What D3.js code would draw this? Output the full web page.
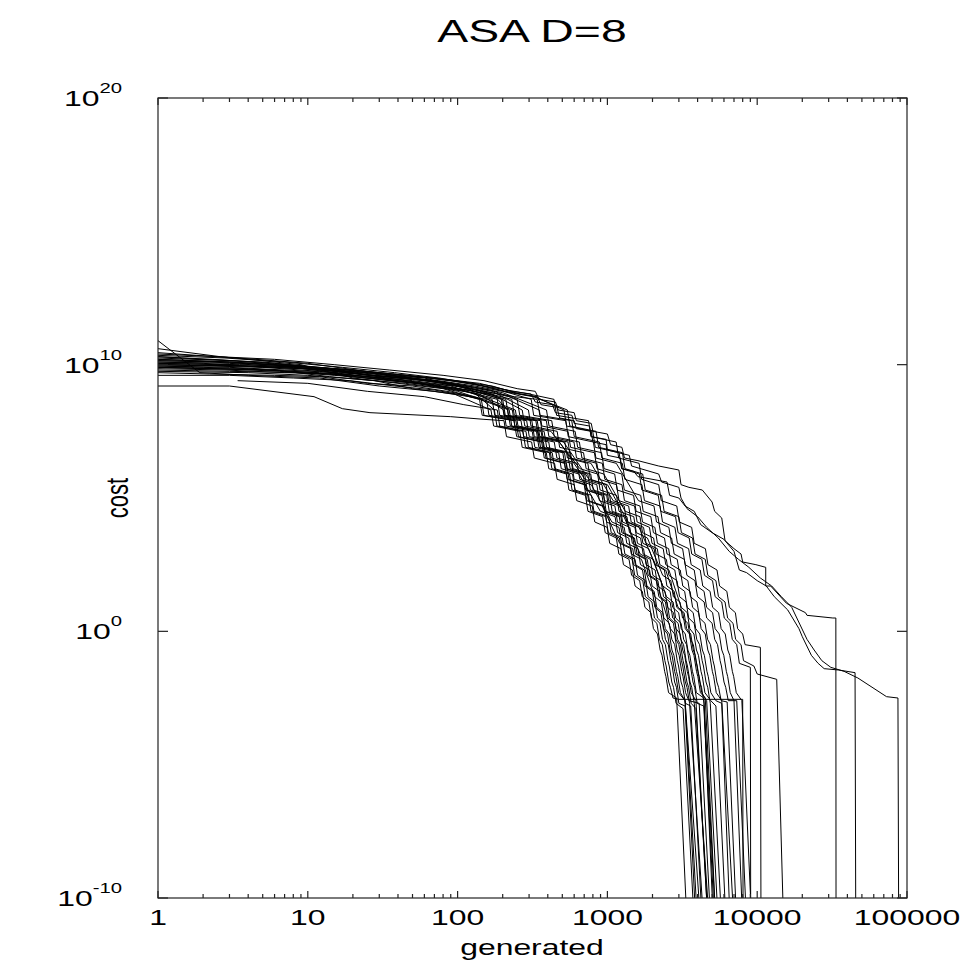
<!DOCTYPE html>
<html>
<head>
<meta charset="utf-8">
<script src="https://cdn.jsdelivr.net/npm/d3@7"></script>
<style>
  body { margin: 0; background: #fff; }
  svg { display: block; font-family: "Liberation Sans", Arial, sans-serif; }
</style>
</head>
<body>
<svg width="964" height="963"></svg>
<script>
// each run: [generated, log10(cost)]
// the last point of most runs sits below 1e-10 (cost hit ~0), it gets clipped
const run01 = [[1,9.2],[3,9.2],[11,8.8],[17,8.35],[26,8.2],[90,8.05],[150,7.95],[204,7.9],[212,7.3],[312,7.1],[325,6.5],[444,6.3],[462,5.7],[600,5.5],[624,4.9],[792,4.7],[824,4.1],[996,3.9],[1036,3.3],[1230,3.1],[1280,2.5],[1470,2.3],[1530,1.7],[1710,1.5],[1780,0.9],[1950,0.7],[2030,0.1],[2160,-0.1],[2250,-0.7],[2316,-0.9],[2410,-1.5],[2460,-1.7],[2560,-2.3],[2900,-2.5],[3400,-11]];
const run02 = [[3.4,9.4],[10,9.3],[25,9.0],[60,8.8],[110,8.5],[184,8.3],[191,7.7],[286,7.5],[297,6.9],[428,6.7],[445,6.1],[585,5.9],[608,5.3],[782,5.1],[813,4.5],[1020,4.3],[1060,3.7],[1258,3.5],[1308,2.9],[1530,2.7],[1590,2.1],[1800,1.9],[1870,1.3],[2074,1.1],[2160,0.5],[2346,0.3],[2440,-0.3],[2550,-0.5],[2650,-1.1],[2706,-1.3],[2810,-1.9],[2890,-2.1],[3000,-2.7],[3300,-2.8],[3900,-11]];
const run03 = [[1,10.9],[1.9,9.7],[4,9.6],[12,9.5],[30,9.2],[70,9.0],[120,8.8],[156,8.7],[162,8.1],[265,7.9],[276,7.3],[406,7.1],[422,6.5],[577,6.3],[600,5.7],[780,5.5],[1071,4.1],[1295,3.9],[1347,3.3],[1600,3.1],[1664,2.5],[1911,2.3],[1987,1.7],[2223,1.5],[2636,0.1],[2808,-0.1],[2920,-0.7],[3011,-0.9],[3131,-1.5],[3198,-1.7],[3326,-2.3],[3500,-2.6],[4100,-2.7],[4900,-11]];
const run04 = [[1,10.6],[2.6,10.3],[4,10.2],[9,10.0],[20,9.5],[40,9.3],[80,9.1],[140,8.7],[221,8.3],[230,7.7],[344,7.5],[358,6.9],[517,6.7],[537,6.1],[705,5.9],[733,5.3],[943,5.1],[981,4.5],[1230,4.3],[1279,3.7],[1517,3.5],[1578,2.9],[1845,2.7],[1919,2.1],[2173,1.9],[2260,1.3],[2500,1.1],[2600,0.5],[2829,0.3],[2942,-0.3],[3075,-0.5],[3198,-1.1],[3264,-1.3],[3394,-1.9],[3485,-2.1],[3624,-2.7],[3900,-2.9],[4700,-11]];
const run05 = [[1,10.25],[3,10.15],[7,10.0],[18,9.8],[35,9.6],[60,9.5],[100,9.2],[196,8.7],[204,8.1],[333,7.9],[346,7.3],[510,7.1],[754,5.7],[980,5.5],[1019,4.9],[1294,4.7],[1345,4.1],[1627,3.9],[2089,2.5],[2401,2.3],[2497,1.7],[2793,1.5],[2905,0.9],[3185,0.7],[3312,0.1],[3528,-0.1],[3669,-0.7],[3783,-0.9],[3934,-1.5],[4018,-1.7],[4179,-2.3],[4500,-2.5],[5300,-11]];
const run06 = [[1,10.1],[2,10.05],[5,9.9],[10,9.85],[22,9.65],[45,9.4],[90,9.2],[130,8.9],[243,8.3],[253,7.7],[378,7.5],[393,6.9],[567,6.7],[590,6.1],[774,5.9],[805,5.3],[1035,5.1],[1076,4.5],[1350,4.3],[1404,3.7],[1665,3.5],[1732,2.9],[2025,2.7],[2480,1.3],[2745,1.1],[2855,0.5],[3105,0.3],[3229,-0.3],[3375,-0.5],[3510,-1.1],[3582,-1.3],[3725,-1.9],[3825,-2.1],[3978,-2.7],[4400,-2.8],[5200,-11]];
const run07 = [[1,10.0],[4,9.95],[8,9.9],[15,9.7],[30,9.5],[55,9.3],[100,9.0],[144,8.7],[150,8.1],[245,7.9],[255,7.3],[374,7.1],[389,6.5],[533,6.3],[554,5.7],[720,5.5],[749,4.9],[950,4.7],[988,4.1],[1195,3.9],[1243,3.3],[1476,3.1],[1535,2.5],[1764,2.3],[1835,1.7],[2052,1.5],[2134,0.9],[2340,0.7],[2434,0.1],[2592,-0.1],[2696,-0.7],[2779,-0.9],[2890,-1.5],[2952,-1.7],[3070,-2.3],[3300,-2.6],[4000,-11]];
const run08 = [[1,9.9],[2.5,9.85],[6,9.8],[14,9.55],[28,9.4],[50,9.1],[95,8.9],[167,8.3],[174,7.7],[260,7.5],[270,6.9],[391,6.7],[406,6.1],[533,5.9],[554,5.3],[713,5.1],[742,4.5],[930,4.3],[967,3.7],[1147,3.5],[1193,2.9],[1395,2.7],[1451,2.1],[1643,1.9],[1709,1.3],[1891,1.1],[1967,0.5],[2139,0.3],[2225,-0.3],[2325,-0.5],[2418,-1.1],[2468,-1.3],[2567,-1.9],[2635,-2.1],[2740,-2.5],[3000,-2.55],[8000,-2.55],[8050,-11]];
const run09 = [[1,9.8],[3,9.75],[9,9.7],[20,9.6],[40,9.45],[75,9.2],[120,9.05],[200,8.7],[208,8.1],[340,7.9],[354,7.3],[520,7.1],[541,6.5],[740,6.3],[770,5.7],[1000,5.5],[1373,4.1],[1660,3.9],[1726,3.3],[2050,3.1],[2132,2.5],[2450,2.3],[2964,0.9],[3250,0.7],[3380,0.1],[3600,-0.1],[3744,-0.7],[3860,-0.9],[4014,-1.5],[4100,-1.7],[4264,-2.3],[4600,-2.6],[5500,-11]];
const run10 = [[1,9.7],[2.2,9.65],[6,9.6],[12,9.55],[25,9.3],[50,9.2],[85,9.0],[130,8.8],[232,8.3],[241,7.7],[361,7.5],[375,6.9],[542,6.7],[564,6.1],[740,5.9],[770,5.3],[989,5.1],[1029,4.5],[1290,4.3],[1655,2.9],[1935,2.7],[2012,2.1],[2279,1.9],[2370,1.3],[2623,1.1],[2728,0.5],[2967,0.3],[3086,-0.3],[3225,-0.5],[3354,-1.1],[3423,-1.3],[3560,-1.9],[3655,-2.1],[3801,-2.7],[4800,-11]];
const run11 = [[1,10.05],[3.5,10.0],[10,9.9],[25,9.6],[48,9.5],[90,9.3],[140,9.0],[230,8.7],[239,8.1],[391,7.9],[407,7.3],[598,7.1],[622,6.5],[851,6.3],[885,5.7],[1150,5.5],[1196,4.9],[1518,4.7],[1579,4.1],[1909,3.9],[1985,3.3],[2358,3.1],[2452,2.5],[2818,2.3],[2930,1.7],[3278,1.5],[3409,0.9],[3738,0.7],[3887,0.1],[4140,-0.1],[4306,-0.7],[4439,-0.9],[4617,-1.5],[4715,-1.7],[4904,-2.3],[5300,-2.6],[5800,-2.7],[6600,-11]];
const run12 = [[1,9.95],[2,9.9],[4,9.85],[11,9.7],[24,9.5],[44,9.35],[80,9.15],[125,8.95],[184,8.7],[191,8.1],[313,7.9],[325,7.3],[478,7.1],[708,5.7],[920,5.5],[957,4.9],[1214,4.7],[1263,4.1],[1527,3.9],[1588,3.3],[1886,3.1],[2344,1.7],[2622,1.5],[2727,0.9],[2990,0.7],[3110,0.1],[3312,-0.1],[3444,-0.7],[3551,-0.9],[3693,-1.5],[3772,-1.7],[3923,-2.3],[4400,-2.5],[5100,-11]];
const run13 = [[1,10.15],[3,10.1],[7,9.95],[16,9.75],[32,9.55],[65,9.4],[110,9.2],[170,9.0],[297,8.3],[309,7.7],[462,7.5],[480,6.9],[693,6.7],[721,6.1],[946,5.9],[1316,4.5],[1650,4.3],[1716,3.7],[2035,3.5],[2116,2.9],[2475,2.7],[2574,2.1],[2915,1.9],[3032,1.3],[3355,1.1],[3489,0.5],[3795,0.3],[3947,-0.3],[4125,-0.5],[4290,-1.1],[4378,-1.3],[4553,-1.9],[4675,-2.1],[4862,-2.7],[5800,-11]];
const run14 = [[1,10.0],[5,9.9],[12,9.75],[28,9.5],[55,9.3],[100,9.1],[160,8.9],[210,8.7],[218,8.1],[357,7.9],[371,7.3],[546,7.1],[568,6.5],[777,6.3],[1092,4.9],[1386,4.7],[1441,4.1],[1743,3.9],[1813,3.3],[2153,3.1],[2239,2.5],[2573,2.3],[3113,0.9],[3413,0.7],[3550,0.1],[3780,-0.1],[3931,-0.7],[4053,-0.9],[4215,-1.5],[4305,-1.7],[4477,-2.3],[4900,-2.6],[5300,-2.8],[6200,-11]];
const run15 = [[1,9.85],[2.8,9.8],[7,9.7],[15,9.65],[35,9.4],[70,9.25],[115,9.05],[175,8.85],[216,8.3],[225,7.7],[336,7.5],[349,6.9],[504,6.7],[524,6.1],[688,5.9],[716,5.3],[920,5.1],[957,4.5],[1200,4.3],[1248,3.7],[1480,3.5],[1539,2.9],[1800,2.7],[1872,2.1],[2120,1.9],[2205,1.3],[2440,1.1],[2538,0.5],[2760,0.3],[2870,-0.3],[3000,-0.5],[3120,-1.1],[3184,-1.3],[3311,-1.9],[3400,-2.1],[3536,-2.7],[4400,-11]];
const run16 = [[1,10.3],[2.3,10.2],[6,10.05],[13,9.85],[30,9.65],[60,9.45],[105,9.25],[165,9.05],[250,8.7],[260,8.1],[425,7.9],[442,7.3],[650,7.1],[676,6.5],[925,6.3],[962,5.7],[1250,5.5],[1300,4.9],[1650,4.7],[1716,4.1],[2075,3.9],[2158,3.3],[2563,3.1],[2665,2.5],[3063,2.3],[3185,1.7],[3563,1.5],[3705,0.9],[4063,0.7],[4225,0.1],[4500,-0.1],[4680,-0.7],[4825,-0.9],[5018,-1.5],[5125,-1.7],[5330,-2.3],[5800,-2.6],[7000,-11]];
const run17 = [[1,9.75],[4,9.7],[10,9.6],[22,9.45],[45,9.3],[85,9.1],[140,8.9],[203,8.3],[211,7.7],[315,7.5],[328,6.9],[473,6.7],[492,6.1],[645,5.9],[898,4.5],[1125,4.3],[1170,3.7],[1388,3.5],[1444,2.9],[1688,2.7],[2068,1.3],[2288,1.1],[2380,0.5],[2588,0.3],[2692,-0.3],[2813,-0.5],[2926,-1.1],[2985,-1.3],[3104,-1.9],[3188,-2.1],[3316,-2.7],[3600,-2.8],[4300,-11]];
const run18 = [[1,10.1],[3,10.05],[8,9.9],[18,9.75],[40,9.55],[80,9.35],[130,9.15],[200,8.95],[392,8.3],[408,7.7],[609,7.5],[633,6.9],[914,6.7],[950,6.1],[1247,5.9],[1297,5.3],[1668,5.1],[1734,4.5],[2175,4.3],[2262,3.7],[2683,3.5],[2790,2.9],[3263,2.7],[3393,2.1],[3843,1.9],[3996,1.3],[4423,1.1],[4600,0.5],[5003,0.3],[5203,-0.3],[5438,-0.5],[5655,-1.1],[5771,-1.3],[6002,-1.9],[6163,-2.1],[6410,-2.6],[7300,-2.6],[8500,-11]];
const run19 = [[1,9.9],[2,9.85],[5,9.8],[12,9.7],[26,9.55],[50,9.4],[95,9.2],[150,9.0],[240,8.8],[340,8.7],[354,8.1],[578,7.9],[601,7.3],[884,7.1],[919,6.5],[1258,6.3],[1308,5.7],[1700,5.5],[1768,4.9],[2244,4.7],[2334,4.1],[2822,3.9],[2935,3.3],[3485,3.1],[3624,2.5],[4165,2.3],[4332,1.7],[4845,1.5],[5039,0.9],[5525,0.7],[5746,0.1],[6120,-0.1],[6365,-0.7],[6562,-0.9],[6824,-1.5],[6970,-1.7],[7249,-2.3],[7900,-2.6],[9200,-11]];
const run20 = [[1,10.2],[3,10.1],[9,9.95],[20,9.8],[45,9.6],[90,9.4],[145,9.2],[210,9.0],[330,8.8],[513,8.3],[534,7.7],[798,7.5],[830,6.9],[1197,6.7],[1245,6.1],[1634,5.9],[1699,5.3],[2185,5.1],[2272,4.5],[2850,4.3],[2964,3.7],[3515,3.5],[3656,2.9],[4275,2.7],[4446,2.1],[5035,1.9],[5236,1.3],[5795,1.1],[6027,0.5],[6555,0.3],[6817,-0.3],[7300,-0.5],[7600,-1.2],[9000,-1.35],[9050,-11]];
const run21 = [[1,10.05],[2.5,10.0],[6,9.9],[14,9.8],[32,9.65],[65,9.5],[120,9.3],[190,9.1],[300,8.9],[440,8.7],[458,8.1],[748,7.9],[778,7.3],[1144,7.1],[1190,6.5],[1628,6.3],[1693,5.7],[2200,5.5],[2288,4.9],[2904,4.7],[3020,4.1],[3652,3.9],[3798,3.3],[4510,3.1],[4690,2.5],[5390,2.3],[5606,1.7],[6270,1.5],[6521,0.9],[7150,0.7],[7400,0.1],[8000,-0.1],[8300,-0.5],[10500,-0.6],[10600,-11]];
const run22 = [[1,9.95],[3,9.9],[7,9.8],[16,9.7],[36,9.55],[75,9.4],[130,9.2],[200,9.0],[320,8.8],[540,8.3],[562,7.7],[840,7.5],[874,6.9],[1260,6.7],[1310,6.1],[1720,5.9],[1789,5.3],[2300,5.1],[2392,4.5],[3000,4.3],[3120,3.7],[3700,3.5],[3848,2.9],[4500,2.7],[4680,2.1],[5300,1.9],[5512,1.3],[6100,1.1],[6344,0.5],[6900,0.3],[7176,-0.3],[7800,-0.5],[8100,-1.1],[9500,-1.3],[10000,-1.6],[13500,-1.8],[15000,-11]];
const run23 = [[1,10.45],[1.8,10.35],[4.5,10.2],[10,10.05],[21,9.8],[42,9.55],[78,9.3],[120,9.1],[176,8.3],[183,7.7],[273,7.5],[284,6.9],[410,6.7],[426,6.1],[559,5.9],[581,5.3],[748,5.1],[778,4.5],[975,4.3],[1014,3.7],[1203,3.5],[1251,2.9],[1463,2.7],[1521,2.1],[1723,1.9],[1792,1.3],[1983,1.1],[2062,0.5],[2243,0.3],[2333,-0.3],[2438,-0.5],[2535,-1.1],[2587,-1.3],[2690,-1.9],[2763,-2.1],[2873,-2.7],[3200,-2.9],[3800,-11]];
const run24 = [[1,9.6],[3,9.6],[8,9.5],[19,9.4],[38,9.2],[70,9.05],[110,8.85],[140,8.7],[146,8.1],[238,7.9],[248,7.3],[364,7.1],[379,6.5],[518,6.3],[539,5.7],[700,5.5],[728,4.9],[924,4.7],[1208,3.3],[1435,3.1],[1492,2.5],[1715,2.3],[1784,1.7],[1995,1.5],[2075,0.9],[2275,0.7],[2366,0.1],[2520,-0.1],[2621,-0.7],[2702,-0.9],[2810,-1.5],[2870,-1.7],[2985,-2.3],[3300,-2.6],[4200,-11]];
const run25 = [[1,10.15],[2.2,10.1],[5.5,10.0],[13,9.85],[27,9.6],[52,9.45],[92,9.25],[140,9.05],[220,8.8],[351,8.3],[365,7.7],[546,7.5],[568,6.9],[819,6.7],[852,6.1],[1118,5.9],[1163,5.3],[1495,5.1],[1555,4.5],[1950,4.3],[2028,3.7],[2405,3.5],[2501,2.9],[2925,2.7],[3042,2.1],[3445,1.9],[3583,1.3],[3965,1.1],[4124,0.5],[4485,0.3],[4664,-0.3],[4875,-0.5],[5070,-1.1],[5174,-1.3],[5381,-1.9],[5525,-2.1],[5746,-2.6],[6300,-2.65],[7300,-11]];
const run26 = [[1,10.0],[3.8,9.95],[9,9.85],[19,9.7],[39,9.5],[72,9.35],[115,9.15],[170,8.9],[270,8.3],[281,7.7],[420,7.5],[655,6.1],[860,5.9],[894,5.3],[1150,5.1],[1196,4.5],[1500,4.3],[1560,3.7],[1850,3.5],[2340,2.1],[2650,1.9],[2756,1.3],[3050,1.1],[3172,0.5],[3450,0.3],[3588,-0.3],[3750,-0.5],[3900,-1.1],[3980,-1.3],[4139,-1.9],[4250,-2.1],[4420,-2.7],[5300,-11]];
const run27 = [[1,9.9],[2.6,9.85],[6.5,9.75],[15,9.6],[32,9.45],[63,9.25],[105,9.05],[170,8.7],[177,8.1],[289,7.9],[301,7.3],[442,7.1],[460,6.5],[629,6.3],[654,5.7],[850,5.5],[884,4.9],[1122,4.7],[1167,4.1],[1411,3.9],[1467,3.3],[1743,3.1],[1812,2.5],[2083,2.3],[2166,1.7],[2423,1.5],[2520,0.9],[2763,0.7],[2873,0.1],[3060,-0.1],[3182,-0.7],[3281,-0.9],[3412,-1.5],[3485,-1.7],[3624,-2.3],[3900,-2.6],[4700,-11]];
const run28 = [[1,10.35],[2.8,10.25],[7,10.1],[17,9.9],[38,9.7],[75,9.5],[125,9.3],[190,9.05],[310,8.7],[322,8.1],[527,7.9],[548,7.3],[806,7.1],[838,6.5],[1147,6.3],[1612,4.9],[2046,4.7],[2128,4.1],[2573,3.9],[2676,3.3],[3178,3.1],[3305,2.5],[3798,2.3],[3950,1.7],[4418,1.5],[4595,0.9],[5038,0.7],[5240,0.1],[5580,-0.1],[5803,-0.7],[5983,-0.9],[6222,-1.5],[6355,-1.7],[6609,-2.3],[7000,-2.6],[8000,-11]];
// the three long tails on the right
const run29 = [[1,10.4],[2.5,10.3],[6,10.2],[15,10.0],[35,9.8],[80,9.6],[150,9.4],[250,9.1],[330,9.0],[350,8.7],[450,8.6],[470,8.3],[600,8.2],[620,7.9],[780,7.8],[800,7.5],[1000,7.4],[1050,7.0],[1250,6.9],[1300,6.5],[1600,6.4],[2200,6.2],[3000,6.05],[3100,5.5],[3500,5.4],[4300,5.3],[5000,4.85],[5200,4.5],[5800,4.25],[6100,3.4],[7000,3.1],[7800,2.9],[8000,2.6],[9800,2.5],[11400,2.4],[11400,1.7],[12300,1.7],[15700,1.05],[21000,0.7],[21500,0.6],[32000,0.5],[33500,0.5],[33600,-11]];
const run30 = [[1,10.2],[3,10.1],[8,9.95],[20,9.8],[45,9.6],[95,9.4],[170,9.2],[260,8.9],[340,8.8],[360,8.5],[460,8.4],[480,8.0],[600,7.9],[620,7.6],[780,7.5],[800,7.1],[980,7.0],[1000,6.6],[1220,6.5],[1250,6.1],[1500,6.0],[1600,5.8],[2500,5.6],[2600,5.1],[3000,5.0],[3300,4.7],[3800,4.5],[4200,4.0],[5000,3.7],[6000,3.45],[7000,3.0],[7600,2.3],[8500,2.2],[10000,1.9],[11500,1.7],[13000,1.3],[16000,0.8],[19000,0.1],[20000,-0.2],[23000,-0.9],[25500,-1.2],[28000,-1.4],[35000,-1.45],[45000,-1.55],[45500,-11]];
const run31 = [[1,10.3],[2,10.2],[5,10.1],[12,9.9],[30,9.7],[70,9.5],[140,9.3],[230,9.0],[310,8.9],[330,8.6],[430,8.5],[450,8.2],[580,8.1],[600,7.8],[760,7.7],[780,7.3],[980,7.2],[1000,6.8],[1400,6.6],[1450,6.2],[2200,5.9],[2300,5.6],[3000,5.4],[3100,5.0],[3400,4.6],[4000,4.3],[4600,3.9],[5500,3.5],[6500,3.0],[7500,2.7],[8800,2.4],[10500,2.0],[12500,1.7],[14500,1.3],[17000,0.9],[19500,0.2],[21500,-0.3],[24000,-0.7],[27000,-1.1],[31000,-1.35],[38000,-1.5],[47000,-1.75],[73000,-2.45],[87000,-2.5],[88000,-11]];

const runs = [run01, run02, run03, run04, run05, run06, run07, run08, run09, run10,
  run11, run12, run13, run14, run15, run16, run17, run18, run19, run20,
  run21, run22, run23, run24, run25, run26, run27, run28, run29, run30, run31];

const xTicks = [1, 10, 100, 1000, 10000, 100000];
const yTicks = [1e-10, 1e0, 1e10, 1e20];
const yTickExp = ["-10", "0", "10", "20"];

const svg = d3.select("svg");
const pL = 158, pR = 907, pT = 98, pB = 898;
const sx = 1.45; // the original picture is stretched sideways

const x = d3.scaleLog().domain([1, 100000]).range([pL, pR]);
const y = d3.scaleLog().domain([1e-10, 1e20]).range([pB, pT]);

svg.append("clipPath").attr("id", "plot")
  .append("rect")
  .attr("x", pL).attr("y", pT)
  .attr("width", pR - pL).attr("height", pB - pT);

// curves
const line = d3.line()
  .x(d => x(d[0]))
  .y(d => y(Math.pow(10, d[1])));

svg.append("g")
  .attr("clip-path", "url(#plot)")
  .selectAll("path")
  .data(runs)
  .join("path")
  .attr("d", line)
  .attr("fill", "none")
  .attr("stroke", "#000")
  .attr("stroke-width", 1);

// frame
svg.append("rect")
  .attr("x", pL).attr("y", pT)
  .attr("width", pR - pL).attr("height", pB - pT)
  .attr("fill", "none")
  .attr("stroke", "#222")
  .attr("stroke-width", 1.2);

// x ticks, inward, on bottom and top
const xAll = x.ticks();
const ticks = svg.append("g").attr("stroke", "#222").attr("stroke-width", 1.2);
xAll.forEach(v => {
  const major = xTicks.includes(v);
  const len = major ? 7 : 4;
  ticks.append("line").attr("x1", x(v)).attr("x2", x(v)).attr("y1", pB).attr("y2", pB - len);
  ticks.append("line").attr("x1", x(v)).attr("x2", x(v)).attr("y1", pT).attr("y2", pT + len);
});
yTicks.forEach(v => {
  ticks.append("line").attr("x1", pL).attr("x2", pL + 10).attr("y1", y(v)).attr("y2", y(v));
  ticks.append("line").attr("x1", pR).attr("x2", pR - 10).attr("y1", y(v)).attr("y2", y(v));
});

// x tick labels
svg.append("g")
  .selectAll("text")
  .data(xTicks)
  .join("text")
  .attr("transform", d => `translate(${x(d)},${pB + 27}) scale(${sx},1)`)
  .attr("text-anchor", "middle")
  .attr("font-size", 22)
  .text(d => d3.format("d")(d));

// y tick labels, 10 with superscript
const yl = svg.append("g")
  .selectAll("text")
  .data(yTicks)
  .join("text")
  .attr("transform", d => `translate(122,${y(d) + 8}) scale(${sx},1)`)
  .attr("text-anchor", "end");
yl.append("tspan").attr("font-size", 22).text("10");
yl.append("tspan").attr("font-size", 14).attr("dy", -13).text((d, i) => yTickExp[i]);

// axis titles
svg.append("text")
  .attr("transform", `translate(532,955) scale(${sx},1)`)
  .attr("text-anchor", "middle")
  .attr("font-size", 22)
  .text("generated");

svg.append("text")
  .attr("transform", `translate(128,498) scale(${sx},1) rotate(-90)`)
  .attr("text-anchor", "middle")
  .attr("font-size", 22)
  .text("cost");

svg.append("text")
  .attr("transform", `translate(532,42) scale(${sx},1)`)
  .attr("text-anchor", "middle")
  .attr("font-size", 32)
  .text("ASA D=8");
</script>
</body>
</html>
